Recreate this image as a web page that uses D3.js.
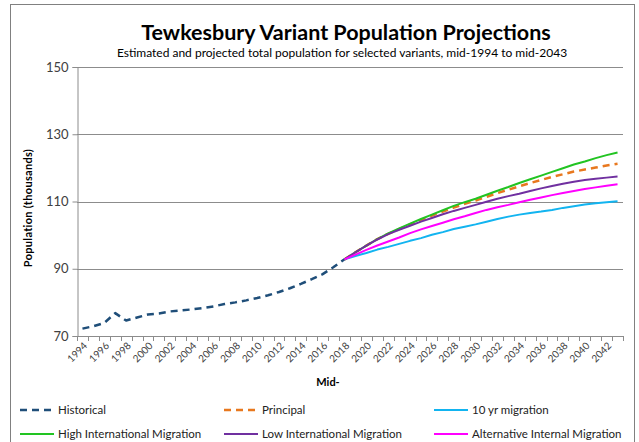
<!DOCTYPE html>
<html><head><meta charset="utf-8">
<script src="https://cdn.jsdelivr.net/npm/d3@7/dist/d3.min.js"></script>
<style>
body{margin:0;background:#fff}
svg{display:block}
text{font-family:Lato,"Liberation Sans",Arial,sans-serif}
</style>
</head><body>
<svg id="chart" width="639" height="442"></svg>
<script>
const categories = [1994,1995,1996,1997,1998,1999,2000,2001,2002,2003,2004,2005,2006,2007,2008,2009,2010,2011,2012,2013,2014,2015,2016,2017,2018,2019,2020,2021,2022,2023,2024,2025,2026,2027,2028,2029,2030,2031,2032,2033,2034,2035,2036,2037,2038,2039,2040,2041,2042,2043];
const tickLabels = [1994,1996,1998,2000,2002,2004,2006,2008,2010,2012,2014,2016,2018,2020,2022,2024,2026,2028,2030,2032,2034,2036,2038,2040,2042];
const yTicks = [70,90,110,130,150];

const historicalYears = categories.slice(0, 25);   // 1994-2018
const projectionYears = categories.slice(24);      // 2018-2043

const historical = [72.2,72.9,73.9,76.8,74.6,75.5,76.4,76.7,77.3,77.6,77.9,78.3,78.8,79.5,80.0,80.6,81.3,82.1,83.1,84.2,85.5,86.9,88.4,90.5,92.8];
const principal  = [92.8,94.9,96.9,98.8,100.4,101.8,103.2,104.5,105.8,107.0,108.2,109.3,110.3,111.4,112.5,113.5,114.5,115.5,116.4,117.3,118.1,118.9,119.5,120.1,120.7,121.2];
const tenYr      = [92.8,93.8,94.7,95.7,96.5,97.4,98.3,99.1,100.1,100.9,101.8,102.5,103.2,104.0,104.8,105.5,106.1,106.6,107.0,107.5,108.1,108.6,109.1,109.5,109.8,110.1];
const highIntl   = [92.8,94.9,96.9,98.8,100.5,102.0,103.4,104.8,106.1,107.4,108.7,109.8,110.8,112.0,113.2,114.3,115.5,116.6,117.7,118.8,119.9,121.0,121.9,122.9,123.8,124.6];
const lowIntl    = [92.8,94.9,96.9,98.7,100.3,101.6,102.8,104.0,105.1,106.2,107.2,108.1,109.0,109.9,110.8,111.6,112.3,113.1,113.9,114.6,115.3,115.9,116.4,116.8,117.1,117.4];
const altInternal= [92.8,94.2,95.6,96.9,98.1,99.3,100.6,101.7,102.7,103.7,104.7,105.6,106.6,107.5,108.3,109.0,109.8,110.5,111.2,111.9,112.5,113.1,113.7,114.2,114.7,115.1];

const seriesNames = ["Historical","Principal","10 yr migration","High International Migration","Low International Migration","Alternative Internal Migration"];
const seriesColors = ["#1F4E79","#E8781E","#12B4F0","#22C422","#7030A0","#FF00FF"];

const series = [
  {name: seriesNames[0], color: seriesColors[0], dash: "7,5", width: 2.5, years: historicalYears, values: historical},
  {name: seriesNames[1], color: seriesColors[1], dash: "7,5", width: 2.5, years: projectionYears, values: principal},
  {name: seriesNames[2], color: seriesColors[2], dash: null, width: 2, years: projectionYears, values: tenYr},
  {name: seriesNames[3], color: seriesColors[3], dash: null, width: 2, years: projectionYears, values: highIntl},
  {name: seriesNames[4], color: seriesColors[4], dash: null, width: 2, years: projectionYears, values: lowIntl},
  {name: seriesNames[5], color: seriesColors[5], dash: null, width: 2, years: projectionYears, values: altInternal}
];

const svg = d3.select("#chart");
const plot = {left: 77, right: 623, top: 67, bottom: 336};

// outer frame
svg.append("rect").attr("x", 10.5).attr("y", 4.5).attr("width", 624).attr("height", 460)
  .attr("fill", "#fff").attr("stroke", "#808080").attr("stroke-width", 1);

const x = d3.scaleBand().domain(categories).range([plot.left, plot.right]).paddingInner(0).paddingOuter(0);
const y = d3.scaleLinear().domain([70, 150]).range([plot.bottom, plot.top]);
const cx = d => x(d) + x.bandwidth() / 2;

// title
svg.append("text").attr("x", 346).attr("y", 40).attr("text-anchor", "middle")
  .attr("font-size", 21.5).attr("font-weight", "bold").attr("fill", "#000")
  .text("Tewkesbury Variant Population Projections");
svg.append("text").attr("x", 342).attr("y", 57).attr("text-anchor", "middle")
  .attr("font-size", 12).attr("fill", "#000")
  .text("Estimated and projected total population for selected variants, mid-1994 to mid-2043");

// gridlines
svg.append("g").selectAll("line").data(yTicks.filter(t => t > 70)).join("line")
  .attr("x1", plot.left).attr("x2", plot.right)
  .attr("y1", d => Math.round(y(d)) + 0.5).attr("y2", d => Math.round(y(d)) + 0.5)
  .attr("stroke", "#8C8C8C").attr("stroke-width", 1);

// y axis
const yAxis = d3.axisLeft(y).tickValues(yTicks).tickSize(5).tickPadding(4);
const yg = svg.append("g").attr("transform", `translate(${plot.left + 0.5},0)`).call(yAxis);
yg.select(".domain").attr("stroke", "#8C8C8C");
yg.selectAll(".tick line").attr("stroke", "#8C8C8C");
yg.selectAll(".tick text").attr("font-size", 13).attr("fill", "#404040").attr("font-family", "Lato, 'Liberation Sans', sans-serif");

// x axis line & ticks at category boundaries
const xg = svg.append("g");
xg.append("line").attr("x1", plot.left).attr("x2", plot.right)
  .attr("y1", plot.bottom + 0.5).attr("y2", plot.bottom + 0.5).attr("stroke", "#8C8C8C");
const boundaries = categories.map(d => x(d)).concat([x.range()[1]]);
xg.selectAll("line.tk").data(boundaries).join("line").attr("class", "tk")
  .attr("x1", d => Math.round(d) + 0.5).attr("x2", d => Math.round(d) + 0.5)
  .attr("y1", plot.bottom).attr("y2", plot.bottom + 5).attr("stroke", "#8C8C8C");
xg.selectAll("text").data(tickLabels).join("text")
  .attr("transform", d => `translate(${cx(d) + 3},${plot.bottom + 8}) rotate(-45)`)
  .attr("text-anchor", "end").attr("dy", "0.35em")
  .attr("font-size", 10).attr("fill", "#404040").text(d => d);

// axis titles
svg.append("text").attr("transform", "translate(32,208) rotate(-90)").attr("text-anchor", "middle")
  .attr("font-size", 11).attr("font-weight", "bold").attr("fill", "#000").attr("letter-spacing", 0.3)
  .text("Population  (thousands)");
svg.append("text").attr("x", 328).attr("y", 386).attr("text-anchor", "middle")
  .attr("font-size", 11).attr("font-weight", "bold").attr("fill", "#000").text("Mid-");

// lines
const line = d3.line().x(d => cx(d[0])).y(d => y(d[1]));
const lg = svg.append("g");
series.forEach(s => {
  lg.append("path").datum(s.years.map((yr, i) => [yr, s.values[i]]))
    .attr("d", line).attr("fill", "none").attr("stroke", s.color)
    .attr("stroke-width", s.width).attr("stroke-dasharray", s.dash)
    .attr("stroke-linejoin", "round");
});

// legend
const legX = [20, 224, 434];
const legY = [410, 434];
const leg = svg.append("g");
series.forEach((s, i) => {
  const lx = legX[i % 3], ly = legY[Math.floor(i / 3)];
  leg.append("line").attr("x1", lx).attr("x2", lx + 34).attr("y1", ly).attr("y2", ly)
    .attr("stroke", s.color).attr("stroke-width", s.width).attr("stroke-dasharray", s.dash);
  leg.append("text").attr("x", lx + 38).attr("y", ly).attr("dy", "0.35em")
    .attr("font-size", 11.5).attr("fill", "#222").text(s.name);
});
</script>
</body></html>
